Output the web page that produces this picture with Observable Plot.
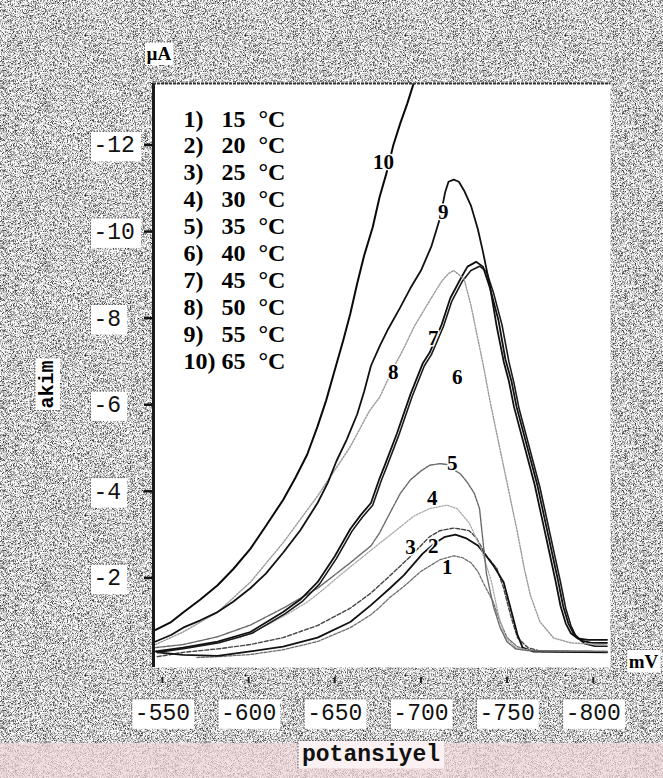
<!DOCTYPE html>
<html>
<head>
<meta charset="utf-8">
<script src="https://cdn.jsdelivr.net/npm/d3@7"></script>
<script src="https://cdn.jsdelivr.net/npm/@observablehq/plot@0.6"></script>
<style>
  html, body { margin: 0; padding: 0; background: #bcbcbc; }
  #chart { width: 663px; height: 778px; }
</style>
</head>
<body>
<div id="chart"></div>
<script>
// Polarographic current (µA) against potential (mV) at ten temperatures
const curveIds = [1, 2, 3, 4, 5, 6, 7, 8, 9, 10];
const temperatures = [15, 20, 25, 30, 35, 40, 45, 50, 55, 65];
const xTicks = [-550, -600, -650, -700, -750, -800];
const yTicks = [-12, -10, -8, -6, -4, -2];
const xDomain = [-544.8, -810];
const yDomain = [0.07, -13.42];

// [potential mV, current µA]
const curve1 = [[-570,-0.16],[-582,-0.18],[-601,-0.23],[-620,-0.34],[-640,-0.53],[-659,-0.85],[-671,-1.15],[-676,-1.32],[-682,-1.55],[-690,-1.8],[-700,-2.15],[-711,-2.42],[-719,-2.51],[-724,-2.47],[-729,-2.35],[-733,-2.15],[-736,-1.9],[-742,-1.44],[-746,-0.98],[-750,-0.62],[-756,-0.41],[-765,-0.32],[-808,-0.3]];
const curve2 = [[-547,-0.18],[-562,-0.28],[-582,-0.36],[-601,-0.46],[-620,-0.62],[-640,-0.9],[-659,-1.3],[-671,-1.65],[-682,-2.05],[-694,-2.5],[-705,-2.95],[-711,-3.09],[-719,-3.15],[-724,-3.12],[-728,-3.09],[-732,-2.93],[-738,-2.51],[-744,-2.22],[-748,-1.76],[-752,-1.14],[-756,-0.62],[-762,-0.39],[-770,-0.3],[-808,-0.28]];
const curve3 = [[-547,-0.28],[-562,-0.22],[-582,-0.2],[-601,-0.3],[-620,-0.41],[-640,-0.62],[-659,-0.98],[-671,-1.37],[-682,-1.76],[-690,-2.06],[-701,-2.56],[-708,-2.8],[-714,-2.95],[-720,-3.0],[-726,-2.92],[-733,-2.75],[-738,-2.5],[-742,-2.29],[-748,-1.9],[-752,-1.3],[-756,-0.69],[-759,-0.39],[-765,-0.3],[-808,-0.28]];
const curve4 = [[-566,-0.39],[-580,-0.5],[-595,-0.62],[-605,-0.8],[-614,-0.98],[-624,-1.2],[-634,-1.44],[-643,-1.72],[-653,-2.06],[-662,-2.35],[-672,-2.67],[-684,-3.05],[-696,-3.43],[-705,-3.6],[-715,-3.68],[-721,-3.6],[-728,-3.27],[-735,-2.67],[-741,-1.9],[-745,-1.14],[-749,-0.62],[-755,-0.39],[-765,-0.32],[-808,-0.3]];
const curve5 = [[-546,-0.39],[-562,-0.46],[-582,-0.64],[-601,-0.91],[-620,-1.3],[-640,-1.76],[-659,-2.35],[-671,-2.74],[-676,-3.04],[-682,-3.5],[-688,-3.95],[-694,-4.27],[-700,-4.47],[-705,-4.6],[-711,-4.64],[-715,-4.62],[-719,-4.5],[-723,-4.4],[-727,-4.2],[-731,-3.95],[-734,-3.6],[-736,-2.85],[-738,-2.1],[-742,-1.35],[-746,-0.85],[-750,-0.52],[-755,-0.36],[-762,-0.32],[-808,-0.3]];
const curve6 = [[-547,-0.28],[-563,-0.37],[-583,-0.5],[-602,-0.72],[-621,-1.17],[-631,-1.45],[-641,-1.85],[-651,-2.45],[-660,-3.08],[-666,-3.4],[-672,-3.68],[-677,-4.25],[-680,-4.55],[-687,-5.28],[-695,-6.2],[-702,-6.9],[-706,-7.15],[-713,-7.8],[-718,-8.4],[-724,-8.85],[-729,-9.1],[-734,-9.2],[-738,-9.08],[-742,-8.6],[-747,-7.85],[-751,-7.0],[-754,-6.5],[-757,-5.9],[-761,-5.3],[-765,-4.7],[-769,-4.1],[-772,-3.55],[-775,-3.0],[-778,-2.45],[-781,-1.9],[-784,-1.3],[-787,-0.9],[-790,-0.65],[-795,-0.48],[-801,-0.42],[-808,-0.42]];
const curve7 = [[-546,-0.3],[-562,-0.39],[-582,-0.53],[-601,-0.75],[-620,-1.21],[-630,-1.5],[-640,-1.9],[-650,-2.5],[-659,-3.13],[-665,-3.45],[-671,-3.73],[-676,-4.3],[-679,-4.6],[-686,-5.33],[-694,-6.25],[-701,-6.95],[-705,-7.2],[-712,-7.85],[-717,-8.46],[-723,-8.91],[-727,-9.19],[-732,-9.3],[-736,-9.19],[-740,-8.7],[-745,-7.95],[-749,-7.05],[-752.5,-6.55],[-755.5,-5.95],[-759.5,-5.35],[-763.5,-4.75],[-767.5,-4.15],[-770.5,-3.6],[-773.5,-3.05],[-776.5,-2.5],[-779.5,-1.95],[-782.5,-1.35],[-785.5,-0.95],[-788.5,-0.72],[-793,-0.55],[-799,-0.5],[-808,-0.5]];
const curve8 = [[-546,-0.46],[-562,-0.75],[-582,-1.21],[-601,-1.9],[-620,-2.81],[-640,-3.89],[-659,-5.03],[-670,-5.85],[-676,-6.17],[-684,-6.85],[-690,-7.3],[-696,-7.8],[-702,-8.2],[-707,-8.53],[-712,-8.85],[-716,-9.03],[-719,-9.1],[-725,-8.91],[-729,-8.3],[-732.5,-7.62],[-736,-6.95],[-740,-6.1],[-744,-5.33],[-748,-4.57],[-752,-3.81],[-756,-3.05],[-760,-2.21],[-763.5,-1.6],[-769,-0.99],[-777,-0.61],[-787,-0.5],[-808,-0.45]];
const curve9 = [[-546,-0.53],[-555,-0.68],[-562,-0.85],[-572,-1.02],[-582,-1.21],[-591,-1.45],[-601,-1.76],[-610,-2.1],[-620,-2.58],[-630,-3.1],[-640,-3.73],[-646,-4.2],[-651,-4.7],[-657,-5.2],[-663,-5.78],[-667,-6.3],[-671,-6.9],[-676,-7.35],[-681,-7.75],[-688,-8.25],[-694,-8.7],[-700,-9.1],[-706,-9.65],[-711,-10.3],[-714,-10.9],[-716,-11.15],[-719,-11.2],[-722,-11.15],[-725,-10.95],[-729,-10.6],[-733,-10.06],[-736,-9.53],[-740,-8.75],[-744,-7.8],[-748,-7.0],[-751,-6.55],[-754,-5.95],[-758,-5.35],[-762,-4.75],[-766,-4.15],[-769,-3.6],[-772,-3.05],[-775,-2.5],[-778,-1.95],[-781,-1.35],[-784,-0.95],[-787,-0.72],[-791,-0.6],[-797,-0.57],[-808,-0.57]];
const curve10 = [[-546,-0.8],[-555,-0.98],[-562,-1.2],[-572,-1.5],[-582,-1.83],[-591,-2.2],[-601,-2.67],[-610,-3.2],[-620,-3.8],[-627,-4.3],[-634,-4.85],[-640,-5.5],[-645,-6.1],[-650,-6.8],[-655,-7.5],[-659,-8.1],[-663,-8.8],[-667,-9.44],[-672,-10.1],[-676,-10.8],[-680,-11.35],[-684,-12.0],[-688,-12.5],[-692,-12.95],[-696,-13.45],[-700,-14.0]];

// where each curve number is written on the chart
const labelX = [-715.3, -707.2, -693.9, -706.6, -718.2, -721.1, -707.2, -684.0, -713.0, -678.2];
const labelY = [-2.24, -2.74, -2.70, -3.84, -4.64, -6.63, -7.54, -6.74, -10.45, -11.59];

const curves = [curve1, curve2, curve3, curve4, curve5, curve6, curve7, curve8, curve9, curve10];
const rows = curves.flatMap((pts, i) => pts.map(([mV, uA]) => ({curve: curveIds[i], mV, uA})));
const labels = curveIds.map((id, i) => ({id, x: labelX[i], y: labelY[i]}));

const lineStyle = {
  1: {stroke: "#6f6f6f", strokeWidth: 1.3, strokeDasharray: "3,1.5"},
  2: {stroke: "#444", strokeWidth: 1.4, strokeDasharray: "4,2"},
  3: {stroke: "#111", strokeWidth: 1.8},
  4: {stroke: "#a8a8a8", strokeWidth: 1.3, strokeDasharray: "1.5,1.5"},
  5: {stroke: "#6a6a6a", strokeWidth: 1.4, strokeDasharray: "3,1"},
  6: {stroke: "#1a1a1a", strokeWidth: 1.6},
  7: {stroke: "#111", strokeWidth: 1.8},
  8: {stroke: "#9a9a9a", strokeWidth: 1.4, strokeDasharray: "1.5,1.5"},
  9: {stroke: "#111", strokeWidth: 1.8},
  10: {stroke: "#0a0a0a", strokeWidth: 2}
};

const mono = "'Liberation Mono', 'DejaVu Sans Mono', monospace";
const serif = "'Liberation Serif', 'DejaVu Serif', serif";

const legendNum = curveIds.map(id => id + ")").join("\n");
const legendTemp = temperatures.map(String).join("\n");
const legendUnit = temperatures.map(() => "°C").join("\n");

const plot = Plot.plot({
  width: 663,
  height: 778,
  marginLeft: 153,
  marginRight: 53,
  marginTop: 83,
  marginBottom: 111,
  style: {background: "transparent", overflow: "visible"},
  x: {domain: xDomain, label: null},
  y: {domain: yDomain, label: null},
  marks: [
    Plot.frame({fill: "white", stroke: null}),
    ...curveIds.map(id => Plot.line(rows.filter(d => d.curve === id), {
      x: "mV", y: "uA", clip: true, strokeLinejoin: "round", ...lineStyle[id]
    })),
    Plot.text(labels, {
      x: "x", y: "y", text: d => String(d.id),
      fontFamily: serif, fontWeight: "bold", fontSize: 21,
      fill: "#000", stroke: "white", strokeWidth: 3
    }),
    // temperature key
    Plot.text([legendNum], {frameAnchor: "top-left", dx: 30, dy: 24, textAnchor: "start", lineAnchor: "top",
      lineHeight: 1.12, fontFamily: serif, fontWeight: "bold", fontSize: 24, fill: "#000"}),
    Plot.text([legendTemp], {frameAnchor: "top-left", dx: 68, dy: 24, textAnchor: "start", lineAnchor: "top",
      lineHeight: 1.12, fontFamily: serif, fontWeight: "bold", fontSize: 24, fill: "#000"}),
    Plot.text([legendUnit], {frameAnchor: "top-left", dx: 105, dy: 24, textAnchor: "start", lineAnchor: "top",
      lineHeight: 1.12, fontFamily: serif, fontWeight: "bold", fontSize: 24, fill: "#000"}),
    // axes
    Plot.ruleX([xDomain[0]], {stroke: "#1a1a1a", strokeWidth: 3}),
    Plot.ruleY([yDomain[1]], {stroke: "#333", strokeWidth: 2, strokeDasharray: "3,1"}),
    Plot.axisY(yTicks, {
      tickSize: 9, tickPadding: 51, textAnchor: "start", tickFormat: d => String(d),
      fontFamily: mono, fontSize: 23, fill: "#111", stroke: "#111", strokeWidth: 2.5, label: null
    }),
    Plot.axisX(xTicks, {
      tickSize: 6, tickPadding: 20, dy: 10, tickFormat: d => String(d),
      fontFamily: mono, fontSize: 23, fill: "#111", stroke: "#222", strokeWidth: 2, label: null
    }),
    Plot.text(["µA"], {frameAnchor: "top-left", dx: -7, dy: -37, fontFamily: serif, fontWeight: "bold",
      fontSize: 19, fill: "#000"}),
    Plot.text(["mV"], {frameAnchor: "bottom-right", dx: 33, dy: 0, textAnchor: "middle", fontFamily: serif,
      fontWeight: "bold", fontSize: 19, fill: "#000"}),
    Plot.text(["akim"], {frameAnchor: "left", dx: -107, dy: 33, rotate: -90, fontFamily: mono, fontWeight: "bold",
      fontSize: 20, fill: "#000"}),
    Plot.text(["potansiyel"], {frameAnchor: "bottom", dx: -11, dy: 93, fontFamily: mono, fontWeight: "bold",
      fontSize: 23, fill: "#111"})
  ]
});

document.getElementById("chart").appendChild(plot);

// grainy paper behind the plot, and the pink strip at the foot
const svg = d3.select(plot);
const defs = svg.insert("defs", ":first-child");
const f = defs.append("filter").attr("id", "grain").attr("x", 0).attr("y", 0).attr("width", 1).attr("height", 1)
  .attr("color-interpolation-filters", "sRGB");
f.append("feTurbulence").attr("type", "fractalNoise").attr("baseFrequency", 1.6).attr("numOctaves", 1).attr("seed", 4);
f.append("feColorMatrix").attr("type", "matrix")
  .attr("values", "1 0 0 0 0  1 0 0 0 0  1 0 0 0 0  0 0 0 0 1");
const ct = f.append("feComponentTransfer");
["feFuncR", "feFuncG", "feFuncB"].forEach(n => ct.append(n).attr("type", "linear").attr("slope", 2.4).attr("intercept", -0.4));
const bg = svg.insert("g", "defs + *");
bg.append("rect").attr("x", 0).attr("y", 0).attr("width", 663).attr("height", 778).attr("filter", "url(#grain)");
bg.append("rect").attr("x", 0).attr("y", 743).attr("width", 663).attr("height", 35).attr("fill", "#f2d7db").attr("opacity", 0.7);

// white label boxes with a dotted edge
function boxText(t, pad, fill) {
  const b = t.getBBox();
  const tr = t.getAttribute("transform");
  const g = document.createElementNS("http://www.w3.org/2000/svg", "g");
  if (tr) g.setAttribute("transform", tr);
  const r = document.createElementNS("http://www.w3.org/2000/svg", "rect");
  r.setAttribute("x", b.x - pad[0]); r.setAttribute("y", b.y - pad[1]);
  r.setAttribute("width", b.width + pad[0] + pad[2]); r.setAttribute("height", b.height + pad[1] + pad[3]);
  r.setAttribute("fill", fill);
  g.appendChild(r);
  const l = document.createElementNS("http://www.w3.org/2000/svg", "path");
  l.setAttribute("d", `M${b.x - pad[0]},${b.y + b.height + pad[3]}V${b.y - pad[1]}H${b.x + b.width + pad[2]}`);
  l.setAttribute("fill", "none"); l.setAttribute("stroke", "#555"); l.setAttribute("stroke-width", 1);
  l.setAttribute("stroke-dasharray", "1.5,1.5");
  g.appendChild(l);
  t.parentNode.insertBefore(g, t);
}
plot.querySelectorAll('g[aria-label="y-axis tick label"] text').forEach(t => boxText(t, [3, 2, 6, 2], "white"));
plot.querySelectorAll('g[aria-label="x-axis tick label"] text').forEach(t => boxText(t, [3, 2, 4, 2], "white"));
plot.querySelectorAll("text").forEach(t => {
  const s = t.textContent;
  if (s === "µA" || s === "mV" || s === "akim") boxText(t, [2, 1, 2, 1], "white");
  else if (s === "potansiyel") boxText(t, [4, 1, 4, 1], "#fbf1f2");
});
</script>
</body>
</html>
